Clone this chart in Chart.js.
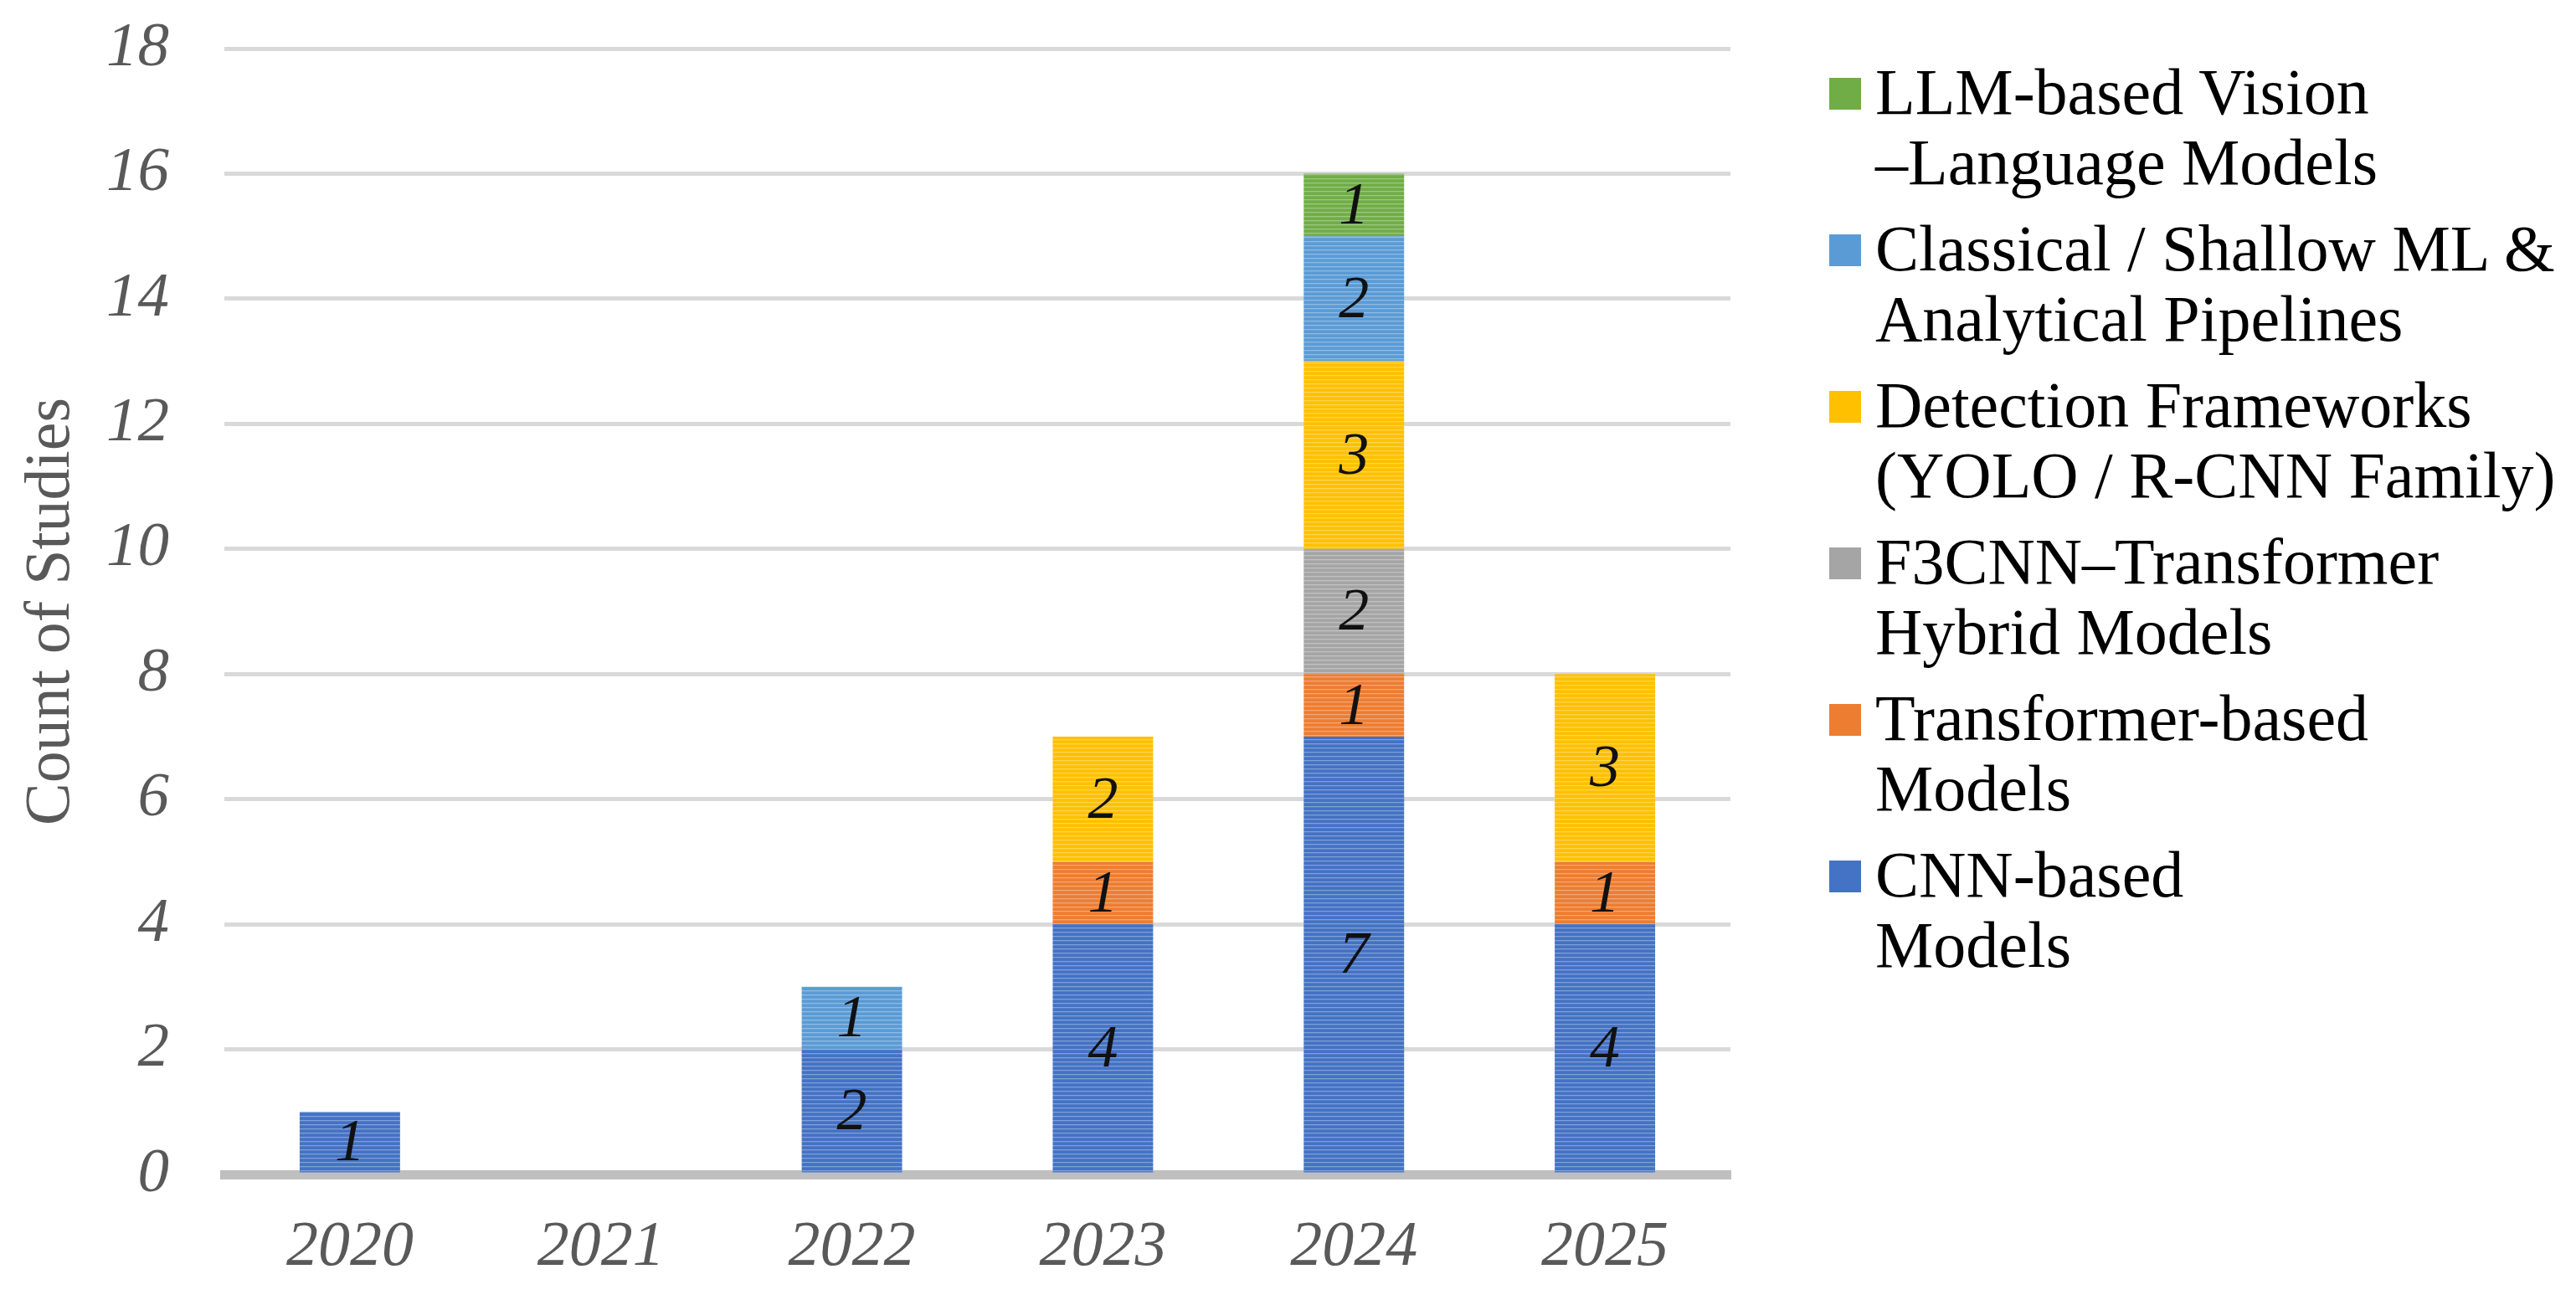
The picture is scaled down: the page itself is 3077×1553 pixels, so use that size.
<!DOCTYPE html>
<html>
<head>
<meta charset="utf-8">
<script src="https://cdn.jsdelivr.net/npm/chart.js@4.4.1/dist/chart.umd.min.js"></script>
<style>
 html,body{margin:0;padding:0;background:#fff;}
 #wrap{position:relative;width:3077px;height:1553px;}
 #legend{position:absolute;left:2185px;top:68px;font-family:'Liberation Serif','Times New Roman',serif;font-size:78px;line-height:84px;color:#000;white-space:nowrap;}
 .item{position:relative;padding-left:55px;height:168px;margin-bottom:19px;}
 .mark{position:absolute;left:0;top:25px;width:38px;height:38px;}
</style>
</head>
<body>
<div id="wrap">
 <canvas id="c" width="3077" height="1553"></canvas>
 <div id="legend"></div>
</div>
<script>
const years=["2020","2021","2022","2023","2024","2025"];
const cnn=[1,0,2,4,7,4];
const transformer=[0,0,0,1,1,1];
const hybrid=[0,0,0,0,2,0];
const detection=[0,0,0,2,3,3];
const classical=[0,0,1,0,2,0];
const llm=[0,0,0,0,1,0];
const yTicks=[0,2,4,6,8,10,12,14,16,18];

const names=[
 ["CNN-based","Models"],
 ["Transformer-based","Models"],
 ["F3CNN\u2013Transformer","Hybrid Models"],
 ["Detection Frameworks","(YOLO / R-CNN Family)"],
 ["Classical / Shallow ML &","Analytical Pipelines"],
 ["LLM-based Vision","\u2013Language Models"]
];
const colors=["#4472C4","#ED7D31","#A5A5A5","#FFC000","#5B9BD5","#70AD47"];
const series=[cnn,transformer,hybrid,detection,classical,llm];

// striped fill like the office chart texture
function stripe(col){
 const p=document.createElement("canvas");
 p.width=4;p.height=5;
 const g=p.getContext("2d");
 g.fillStyle=col;g.fillRect(0,0,4,5);
 g.fillStyle="rgba(255,255,255,0.32)";g.fillRect(0,3,4,1.3);
 return g.createPattern(p,"repeat");
}

Chart.defaults.font.family="'Liberation Serif','Times New Roman',serif";

const labelPlugin={
 id:"segLabels",
 afterDatasetsDraw(chart){
  const ctx=chart.ctx;
  ctx.save();
  ctx.font="italic 72px 'Liberation Serif','Times New Roman',serif";
  ctx.fillStyle="#111";
  ctx.textAlign="center";
  ctx.textBaseline="middle";
  chart.data.datasets.forEach((ds,di)=>{
   chart.getDatasetMeta(di).data.forEach((bar,i)=>{
    const v=ds.data[i];
    if(!v) return;
    ctx.fillText(String(v),bar.x,(bar.y+bar.base)/2+3);
   });
  });
  ctx.restore();
 }
};

new Chart(document.getElementById("c"),{
 type:"bar",
 data:{
  labels:years,
  datasets:series.map((d,i)=>({
   label:names[i].join(" "),
   data:d,
   backgroundColor:stripe(colors[i]),
   borderWidth:0,
   barPercentage:0.4,
   categoryPercentage:1.0
  }))
 },
 options:{
  responsive:false,
  devicePixelRatio:1,
  animation:false,
  layout:{padding:{top:58,right:1010,left:0,bottom:0}},
  plugins:{legend:{display:false},tooltip:{enabled:false}},
  scales:{
   x:{
    stacked:true,
    z:1,
    grid:{display:false,drawTicks:false},
    border:{display:true,color:"#BFBFBF",width:11},
    ticks:{color:"#595959",font:{size:76,style:"italic"},padding:42},
    afterFit(s){s.height=150;}
   },
   y:{
    stacked:true,
    min:0,max:18,
    afterBuildTicks(s){s.ticks=yTicks.map(v=>({value:v}));},
    grid:{color:"#D9D9D9",lineWidth:5,drawTicks:false},
    border:{display:false},
    ticks:{color:"#595959",font:{size:75,style:"italic"},padding:66},
    title:{display:true,text:"Count of Studies",color:"#595959",font:{size:76},padding:{top:16,bottom:0}},
    afterFit(s){s.width=268;s.paddingTop=0;s.paddingBottom=0;}
   }
  }
 },
 plugins:[labelPlugin]
});

const leg=document.getElementById("legend");
for(let i=names.length-1;i>=0;i--){
 const it=document.createElement("div");
 it.className="item";
 const m=document.createElement("span");
 m.className="mark";
 m.style.background="repeating-linear-gradient(180deg,"+colors[i]+" 0 3px,rgba(255,255,255,0.0) 3px,"+colors[i]+" 5px)";
 m.style.backgroundColor=colors[i];
 it.appendChild(m);
 it.appendChild(document.createTextNode(names[i][0]));
 it.appendChild(document.createElement("br"));
 it.appendChild(document.createTextNode(names[i][1]));
 leg.appendChild(it);
}
</script>
</body>
</html>
